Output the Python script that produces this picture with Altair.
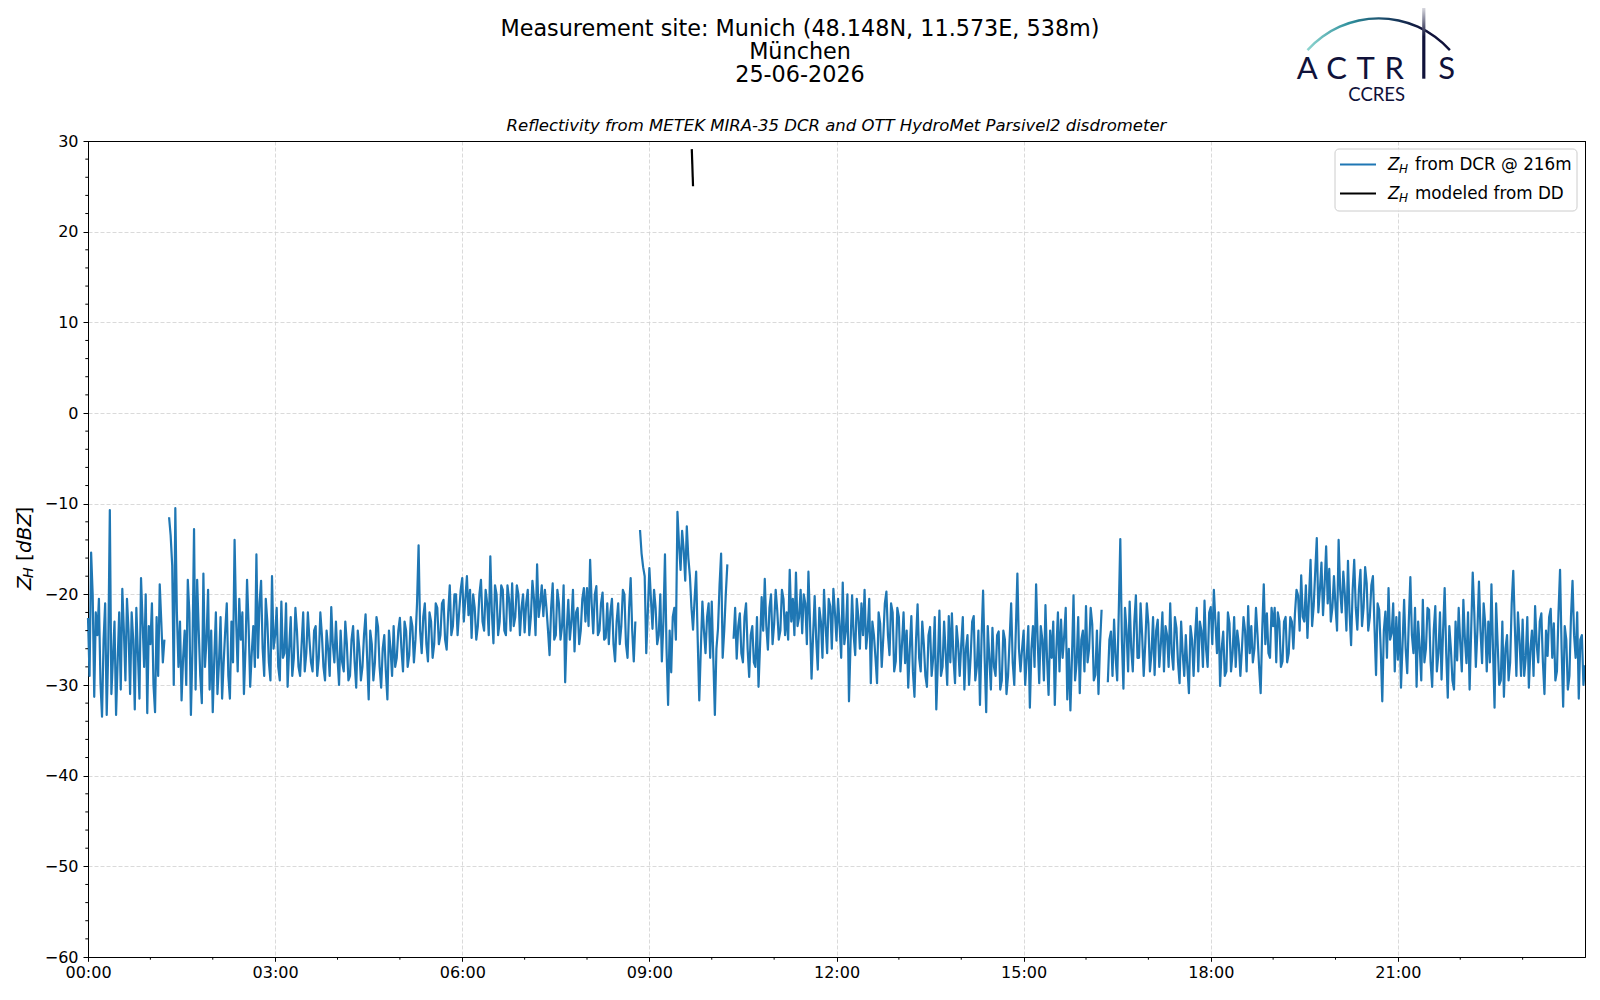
import altair as alt
import pandas as pd

# ---------------- data ----------------
# Hn: samples at n:00, n:03, ... ; MHn: the samples in between (n:01.5, n:04.5, ...)
STEP_MIN = 3
H00 = [-22.6, -15.4, -31.3, -24.5, -29.8, -25.0, -33.3, -10.7, -27.0, -33.3, -22.0, -19.4, -29.5, -24.0, -22.0, -32.7, -26.5, -18.2, -28.0, -33.1]
H01 = [-25.5, -30.0, -22.5, -18.9, -27.5, None, -11.5, -16.8, -10.5, -28.0, -31.7, -24.0, -18.4, -33.3, -12.8, -18.4, -29.0, -17.7, -25.0, -30.5]
H02 = [-33.0, -22.0, -27.5, -31.5, -24.0, -29.0, -23.0, -14.0, -28.5, -25.0, -31.0, -18.4, -30.2, -23.5, -15.6, -21.0, -26.0, -20.5, -27.5, -18.0]
H03 = [-24.5, -28.0, -20.8, -26.5, -30.2, -22.5, -27.0, -24.0, -29.0, -22.0, -26.5, -25.0, -28.5, -23.5, -27.0, -24.5, -29.5, -26.0, -21.4, -27.5]
H04 = [-27.0, -24.0, -28.5, -25.5, -29.0, -23.5, -30.3, -26.0, -28.0, -22.2, -31.6, -25.5, -27.5, -23.6, -30.3, -24.5, -31.6, -26.0, -23.5, -27.0]
H05 = [-22.6, -28.5, -24.0, -26.7, -23.5, -25.0, -14.6, -26.5, -21.0, -27.4, -23.0, -25.5, -21.5, -24.5, -20.6, -26.1, -19.0, -23.5, -20.0, -22.0]
H06 = [-18.2, -20.5, -22.3, -24.8, -21.5, -23.5, -18.4, -24.0, -21.0, -15.8, -25.4, -20.0, -23.0, -19.5, -24.5, -20.5, -18.8, -22.5, -20.0, -21.5]
H07 = [-24.2, -19.5, -22.5, -20.5, -16.7, -21.0, -22.4, -21.5, -26.7, -18.8, -24.5, -21.0, -23.5, -29.7, -20.6, -23.0, -26.3, -21.5, -24.0, -19.3]
H08 = [-19.3, -16.2, -24.3, -19.1, -24.0, -19.8, -24.8, -25.5, -20.5, -27.4, -21.0, -23.5, -20.0, -27.0, -18.2, -27.4, None, -12.9, -17.0, -26.5]
H09 = [-17.1, -23.8, -21.5, -24.5, -27.4, -15.6, -32.2, -28.6, -21.5, -10.9, -17.3, -15.1, -12.5, -18.0, -23.9, -17.5, -31.7, -20.8, -26.5, -21.0]
H10 = [-20.8, -33.3, -23.8, -15.5, -24.0, -16.7, None, -24.9, -27.1, -22.1, -27.5, -21.0, -29.1, -23.5, -28.0, -30.2, -20.3, -18.3, -26.1, -20.0]
H11 = [-23.3, -21.8, -24.0, -20.5, -22.0, -17.3, -20.5, -17.6, -22.5, -24.3, -21.0, -17.5, -29.3, -20.2, -28.3, -23.0, -19.5, -26.5, -21.3, -19.4]
H12 = [-25.1, -23.5, -18.7, -24.0, -31.8, -20.1, -26.7, -22.5, -21.0, -19.5, -24.0, -29.8, -24.5, -29.8, -23.2, -24.8, -19.7, -26.7, -22.0, -27.4]
H13 = [-22.5, -25.5, -27.6, -30.3, -22.4, -31.3, -21.1, -28.5, -25.5, -30.2, -23.6, -27.0, -32.7, -21.8, -28.0, -26.5, -22.4, -22.1, -29.8, -25.5]
H14 = [-25.5, -30.5, -24.5, -27.0, -22.4, -28.0, -32.2, -19.6, -33.0, -27.0, -23.7, -29.0, -24.1, -29.5, -25.0, -29.0, -21.0, -30.0, -17.7, -28.5]
H15 = [-24.0, -27.0, -32.5, -23.5, -18.9, -29.8, -25.0, -21.2, -31.1, -27.0, -32.2, -22.0, -22.8, -24.6, -31.6, -32.8, -20.1, -27.5, -30.9, -24.0]
H16 = [-21.3, -26.0, -23.3, -28.9, -31.0, -21.7, None, -29.7, -24.1, -22.8, -29.5, -13.9, -30.4, -24.0, -20.8, -28.5, -20.1, -27.0, -24.5, -25.5]
H17 = [-23.2, -26.5, -28.9, -22.8, -25.5, -28.5, -24.5, -21.0, -28.3, -23.7, -29.8, -26.5, -24.5, -30.9, -25.0, -24.5, -28.5, -24.0, -20.7, -28.0]
H18 = [-21.4, -19.5, -26.5, -30.1, -24.1, -28.5, -23.2, -26.5, -28.0, -25.5, -26.0, -24.0, -21.3, -23.5, -26.0, -24.5, -30.9, -18.9, -22.1, -27.0]
H19 = [-23.5, -27.5, -23.0, -27.4, -22.5, -26.5, -23.0, -22.1, -20.1, -17.9, -23.0, -24.8, -16.2, -21.3, -13.8, -19.5, -22.3, -14.7, -17.2, -21.5]
H20 = [-21.3, -14.0, -22.0, -20.0, -16.3, -25.6, -16.2, -23.9, -17.3, -21.5, -18.8, -22.5, -18.0, -28.9, -21.7, -31.8, -21.9, -19.3, -24.3, -28.5]
H21 = [-27.2, -30.3, -20.6, -28.7, -18.1, -26.5, -30.2, -25.9, -20.6, -26.0, -21.7, -30.2, -21.3, -26.5, -29.4, -19.3, -31.4, -26.0, -30.5, -27.3]
H22 = [-25.4, -20.6, -27.6, -30.5, -17.6, -28.0, -18.6, -27.6, -23.2, -23.0, -18.9, -32.5, -25.5, -29.5, -31.3, -24.5, -27.5, -17.4, -29.0, -25.0]
H23 = [-22.8, -27.0, -30.3, -24.0, -21.3, -27.5, -22.1, -31.0, -26.8, -21.6, -23.2, -28.5, -17.3, -32.4, -25.0, -29.0, -18.5, -27.0, -31.5, -24.5, -27.8]

MH00 = [-29.0, -20.0, -22.0, -20.5, -33.5, -21.0, -26.0, -31.0, -23.0, -27.5, -30.5, -24.0, -20.5, -31.0, -25.0, -21.5, -31.5, -23.0, -20.0, -23.5]
MH01 = [-21.0, -33.0, -29.0, -23.0, -25.0, None, -13.5, -30.0, -22.0, -23.0, -27.0, -30.0, -22.0, -26.0, -30.5, -24.0, -32.0, -28.0, -19.5, -24.0]
MH02 = [-27.0, -31.0, -22.5, -27.5, -21.0, -31.5, -27.5, -23.0, -20.5, -22.0, -26.0, -23.5, -26.5, -28.0, -27.0, -18.5, -29.0, -23.0, -29.5, -26.0]
MH03 = [-21.5, -29.5, -27.0, -21.0, -26.0, -29.0, -21.5, -28.0, -25.5, -28.5, -22.0, -27.5, -24.0, -29.0, -22.0, -28.0, -24.0, -29.0, -25.5, -23.0]
MH04 = [-30.0, -27.5, -23.0, -29.5, -25.0, -27.5, -24.0, -29.5, -24.5, -27.0, -24.0, -29.5, -22.5, -28.0, -26.0, -28.5, -24.0, -29.0, -28.0, -24.0]
MH05 = [-26.0, -23.0, -28.0, -22.5, -27.5, -21.0, -24.0, -22.5, -25.5, -22.0, -27.0, -21.0, -25.5, -21.0, -25.0, -22.0, -24.5, -20.0, -24.5, -19.5]
MH06 = [-23.0, -18.0, -19.5, -20.0, -25.0, -20.0, -23.0, -19.5, -24.5, -22.0, -19.0, -24.5, -19.0, -24.0, -19.0, -24.0, -23.5, -19.0, -24.5, -20.0]
MH07 = [-21.0, -24.5, -18.5, -24.5, -22.5, -19.0, -19.5, -24.0, -21.5, -25.0, -19.5, -25.0, -19.0, -24.0, -25.0, -19.5, -22.0, -25.5, -20.5, -23.0]
MH08 = [-23.5, -21.0, -20.0, -24.5, -21.0, -25.0, -21.0, -22.0, -25.5, -23.0, -25.5, -19.5, -25.5, -21.5, -24.0, -23.0, None, -15.5, -18.0, -22.0]
MH09 = [-20.5, -19.5, -25.5, -20.0, -23.0, -26.0, -24.0, -22.5, -25.0, -14.5, -13.0, -18.5, -16.0, -21.5, -20.5, -25.0, -26.0, -24.0, -22.5, -27.0]
MH10 = [-27.0, -26.0, -19.0, -27.0, -20.0, None, None, -21.5, -23.5, -26.5, -22.5, -26.0, -24.5, -27.5, -22.5, -25.5, -24.0, -23.5, -21.5, -25.5]
MH11 = [-19.5, -25.0, -19.5, -24.5, -25.0, -23.0, -24.5, -23.5, -19.5, -20.0, -25.5, -23.0, -24.5, -25.0, -21.5, -27.0, -23.5, -20.5, -26.0, -22.0]
MH12 = [-20.5, -27.0, -25.5, -20.0, -25.5, -24.5, -20.5, -26.0, -24.5, -26.0, -20.5, -23.0, -27.0, -22.0, -28.0, -21.0, -24.5, -21.0, -28.5, -21.5]
MH13 = [-28.5, -22.0, -24.0, -26.0, -28.5, -25.0, -27.0, -23.0, -29.0, -24.5, -29.0, -22.5, -27.5, -29.0, -23.0, -30.0, -27.5, -27.0, -23.5, -29.0]
MH14 = [-22.5, -26.0, -30.0, -23.0, -29.5, -24.0, -25.0, -27.0, -23.5, -30.5, -28.0, -24.5, -30.5, -24.0, -31.0, -25.0, -27.5, -24.0, -26.0, -26.0]
MH15 = [-30.0, -23.5, -26.0, -28.0, -25.0, -23.5, -29.5, -27.0, -24.0, -23.0, -26.0, -28.5, -27.0, -21.5, -26.0, -27.0, -29.5, -22.5, -25.0, -28.5]
MH16 = [-27.5, -21.5, -29.5, -24.0, -25.5, None, None, -25.0, -29.0, -27.0, -22.0, -25.0, -21.5, -28.5, -26.0, -23.0, -27.0, -21.0, -29.0, -21.0]
MH17 = [-28.5, -22.5, -24.0, -28.0, -22.0, -23.5, -28.0, -26.5, -22.5, -27.5, -23.0, -29.0, -28.0, -23.5, -29.0, -21.5, -23.0, -28.0, -26.0, -22.0]
MH18 = [-25.5, -23.0, -22.0, -26.0, -29.0, -22.0, -28.5, -22.5, -24.0, -29.0, -22.5, -28.5, -26.5, -27.5, -21.5, -28.0, -24.0, -25.5, -26.5, -21.5]
MH19 = [-21.5, -22.0, -28.0, -23.0, -27.5, -22.5, -26.0, -19.5, -24.0, -22.5, -19.0, -20.5, -23.5, -17.5, -22.0, -16.5, -19.0, -21.0, -23.0, -18.0]
MH20 = [-24.0, -19.5, -17.5, -24.0, -22.0, -19.5, -21.5, -19.5, -23.5, -17.0, -24.0, -19.0, -23.5, -21.0, -26.0, -24.0, -27.0, -25.0, -21.0, -22.5]
MH21 = [-22.0, -25.5, -26.0, -23.0, -24.5, -21.5, -23.0, -29.5, -27.5, -21.5, -27.5, -24.0, -28.5, -22.0, -24.0, -26.5, -23.5, -29.5, -23.0, -21.5]
MH22 = [-28.5, -25.0, -22.0, -24.0, -22.0, -24.0, -24.0, -21.0, -28.5, -27.5, -26.0, -21.0, -30.0, -23.0, -26.0, -29.5, -21.0, -23.5, -22.0, -29.0]
MH23 = [-29.0, -22.5, -26.0, -29.0, -25.5, -23.0, -27.5, -24.0, -22.5, -27.0, -29.5, -22.0, -26.0, -23.5, -30.5, -22.5, -24.5, -22.0, -25.0, -30.0]

HOURS = [H00, H01, H02, H03, H04, H05, H06, H07, H08, H09, H10, H11,
         H12, H13, H14, H15, H16, H17, H18, H19, H20, H21, H22, H23]
MIDS = [MH00, MH01, MH02, MH03, MH04, MH05, MH06, MH07, MH08, MH09, MH10, MH11,
        MH12, MH13, MH14, MH15, MH16, MH17, MH18, MH19, MH20, MH21, MH22, MH23]

DD_TIME_H = [9.68, 9.70]
DD_VALUES = [29.1, 25.0]

X_TICKS_H = [0, 3, 6, 9, 12, 15, 18, 21]
X_MINOR_H = [1, 2, 4, 5, 7, 8, 10, 11, 13, 14, 16, 17, 19, 20, 22, 23]
Y_TICKS = [-60, -50, -40, -30, -20, -10, 0, 10, 20, 30]
Y_MINOR = [v for v in range(-58, 30, 2) if v % 10 != 0]

TITLE_LINES = ["Measurement site: Munich (48.148N, 11.573E, 538m)", "München", "25-06-2026"]
SUBTITLE = "Reflectivity from METEK MIRA-35 DCR and OTT HydroMet Parsivel2 disdrometer"
LEG1 = "from DCR @ 216m"
LEG2 = "modeled from DD"

# ---------------- build tables ----------------
rows = []
seg = 0
for h, (arr, mid) in enumerate(zip(HOURS, MIDS)):
    for k, v in enumerate(arr):
        t = h + k * STEP_MIN / 60.0
        samples = [(t, v)]
        if k < len(mid):
            samples.append((t + STEP_MIN / 120.0, mid[k]))
        for tt, vv in samples:
            if vv is None:
                seg += 1
                continue
            rows.append({"t": tt, "z": vv, "seg": seg})
dcr = pd.DataFrame(rows)
dd = pd.DataFrame({"t": DD_TIME_H, "z": DD_VALUES})
xminor = pd.DataFrame({"t": X_MINOR_H})
yminor = pd.DataFrame({"z": Y_MINOR})
one = pd.DataFrame({"a": [0]})

W, H = 1497, 816
FONT = "DejaVu Sans"
BLUE = "#1f77b4"
NAVY = "#10123a"

xs = alt.Scale(domain=[0, 24], nice=False, zero=False)
ys = alt.Scale(domain=[-60, 30], nice=False, zero=False)

xaxis = alt.Axis(values=X_TICKS_H, title=None, grid=True, tickSize=4.3, labelPadding=3,
                 labelExpr="(datum.value < 10 ? '0' : '') + datum.value + ':00'",
                 labelFlush=False, labelOverlap=False)
yaxis = alt.Axis(values=Y_TICKS, title=None, grid=True, tickSize=5, labelPadding=5,
                 labelOverlap=False)

X = alt.X("t:Q", scale=xs, axis=xaxis)
Y = alt.Y("z:Q", scale=ys, axis=yaxis)

line = alt.Chart(dcr).mark_line(color=BLUE, strokeWidth=2.2, strokeJoin="round").encode(
    x=X, y=Y, detail="seg:N",
)
ddline = alt.Chart(dd).mark_line(color="black", strokeWidth=2.2).encode(x=X, y=Y)
xmin_ticks = alt.Chart(xminor).mark_rule(color="black", strokeWidth=1).encode(
    x=X, y=alt.value(H), y2=alt.value(H + 2.7),
)
ymin_ticks = alt.Chart(yminor).mark_rule(color="black", strokeWidth=1).encode(
    y=Y, x=alt.value(0), x2=alt.value(-2.7),
)
# solid top / right spines (drawn over the dashed grid line at 30 dBZ)
top_spine = alt.Chart(one).mark_rule(color="black", strokeWidth=1).encode(
    x=alt.value(0), x2=alt.value(W + 0.5), y=alt.value(0.5))
right_spine = alt.Chart(one).mark_rule(color="black", strokeWidth=1).encode(
    x=alt.value(W + 0.5), y=alt.value(0), y2=alt.value(H + 0.5))


def txt(text, x, y, size, align="center", baseline="middle", style="normal",
        font=FONT, color="black", angle=0, weight="normal"):
    kw = dict(text=text, fontSize=size, font=font, align=align, baseline=baseline,
              fontStyle=style, color=color, fontWeight=weight)
    if angle:
        kw["angle"] = angle
    return alt.Chart(one).mark_text(**kw).encode(x=alt.value(x), y=alt.value(y))


layers = [line, ddline, xmin_ticks, ymin_ticks, top_spine, right_spine]

# titles
layers.append(txt(TITLE_LINES[0], 712, -112.5, 22.3))
layers.append(txt(TITLE_LINES[1], 712, -89.5, 22.3))
layers.append(txt(TITLE_LINES[2], 712, -66, 22.3))
layers.append(txt(SUBTITLE, W / 2, -15, 16.5, style="italic"))

# y-axis title  Z_H [dBZ]  (rotated)
YX = -63
layers.append(txt("Z", YX, 449, 20, align="left", style="italic", angle=270))
layers.append(txt("H", YX + 4, 437, 14, align="left", style="italic", angle=270))
layers.append(txt("[", YX, 420, 20, align="left", angle=270))
layers.append(txt("dBZ", YX, 412, 20, align="left", style="italic", angle=270))
layers.append(txt("]", YX, 373.5, 20, align="left", angle=270))

# legend
layers.append(alt.Chart(one).mark_rect(fill="white", fillOpacity=0.8, stroke="#cccccc",
                                       strokeWidth=1, cornerRadius=4).encode(
    x=alt.value(1247), x2=alt.value(1489), y=alt.value(8), y2=alt.value(70)))
for yy, col, rest in [(23.5, BLUE, LEG1), (52.5, "black", LEG2)]:
    layers.append(alt.Chart(one).mark_rule(color=col, strokeWidth=2.2).encode(
        x=alt.value(1252), x2=alt.value(1288), y=alt.value(yy)))
    layers.append(txt("Z", 1300, yy, 16.8, align="left", style="italic"))
    layers.append(txt("H", 1311, yy + 4, 12, align="left", style="italic"))
    layers.append(txt(rest, 1327, yy, 16.8, align="left"))

# ACTRIS / CCRES logo
arc_grad = alt.Gradient(gradient="linear", x1=0, x2=1, y1=0, y2=0, stops=[
    alt.GradientStop(color="#8fd6d0", offset=0),
    alt.GradientStop(color="#2e8f9c", offset=0.3),
    alt.GradientStop(color="#1b4868", offset=0.55),
    alt.GradientStop(color=NAVY, offset=0.8),
    alt.GradientStop(color=NAVY, offset=1),
])
layers.append(alt.Chart(one).mark_arc(fill=arc_grad).encode(
    x=alt.value(1290.7), y=alt.value(-26.8),
    radius=alt.value(97), radius2=alt.value(94.6),
    theta=alt.value(5.445), theta2=alt.value(7.121)))
bar_grad = alt.Gradient(gradient="linear", x1=0, x2=0, y1=0, y2=1, stops=[
    alt.GradientStop(color="#ffffff", offset=0),
    alt.GradientStop(color=NAVY, offset=0.45),
    alt.GradientStop(color=NAVY, offset=1),
])
layers.append(alt.Chart(one).mark_rect(fill=bar_grad).encode(
    x=alt.value(1334.2), x2=alt.value(1337.4), y=alt.value(-138.8), y2=alt.value(-62.3)))
for letter, lx in [("A", 1219.2), ("C", 1248.7), ("T", 1277.7), ("R", 1306.2), ("S", 1358.7)]:
    layers.append(txt(letter, lx, -62.3, 31, baseline="alphabetic", font="Lato", color=NAVY))
layers.append(txt("CCRES", 1288.7, -40.0, 18.5, baseline="alphabetic", font="Lato", color=NAVY))

chart = alt.layer(*layers).properties(
    width=W, height=H,
    padding={"left": 80, "top": 133, "right": 7, "bottom": 35},
    autosize=alt.AutoSizeParams(type="none"),
    background="white",
).configure_view(
    stroke="black", strokeWidth=1
).configure_axis(
    domainColor="black", domainWidth=1, tickColor="black", tickWidth=1,
    labelColor="black", labelFont=FONT, labelFontSize=16,
    gridColor="#d0d0d0", gridDash=[4, 2], gridWidth=0.8,
)

chart.save("out.html", embed_options={"renderer": "svg", "actions": False})
